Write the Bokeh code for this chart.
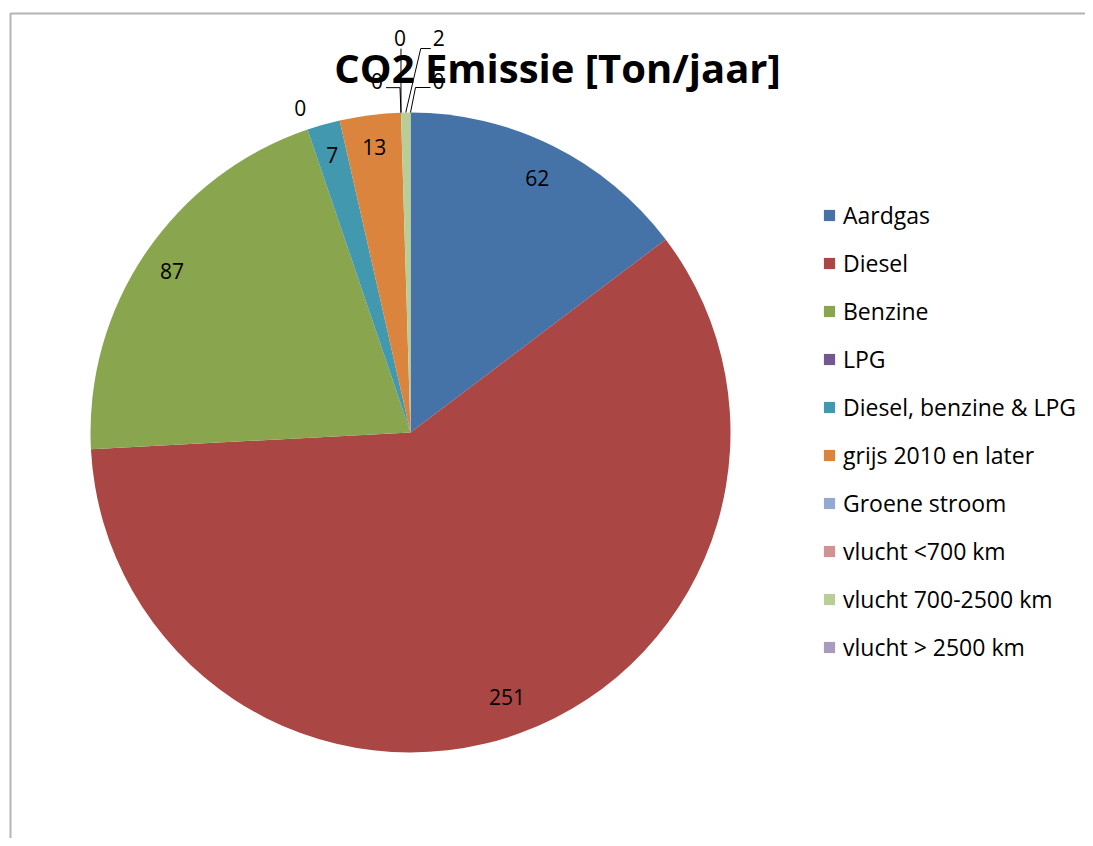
import math
from bokeh.plotting import figure
from bokeh.models import ColumnDataSource, Range1d, Legend, LegendItem, Label
from bokeh.embed import file_html
from bokeh.resources import INLINE
from bokeh.core.properties import value

# ---------------- data ----------------
categories = ["Aardgas", "Diesel", "Benzine", "LPG", "Diesel, benzine & LPG",
              "grijs 2010 en later", "Groene stroom", "vlucht <700 km",
              "vlucht 700-2500 km", "vlucht > 2500 km"]
emissions = [62, 251, 87, 0, 7, 13, 0, 0, 2, 0]
colors = ["#4572A7", "#AA4643", "#89A54E", "#71588F", "#4198AF",
          "#DB843D", "#93A9CF", "#D19392", "#B9CD96", "#A99BBD"]
title_text = "CO2 Emissie [Ton/jaar]"

# ---------------- layout / style ----------------
W, H = 1085, 838
CX, CY, R = 410, 406, 320
FONT = "Open Sans"
label_radius = [0.89, 0.88, 0.90, 1.07, 0.90, 0.90, None, None, None, None]
# labels with leader lines: label offset from slice edge point (px)
leader_label_off = {6: (-24, 32), 7: (-1, 75), 8: (33, 75), 9: (28, 32)}
leader_start_off = {6: (9, -7), 7: (1, -11), 8: (-8, -11), 9: (-8, -7)}
leader_elbow_dx = {6: 14, 7: 0, 8: -10, 9: -15}

total = float(sum(emissions))
starts, ends, mids, radii = [], [], [], []
c = 0.0
for v in emissions:
    a0 = c / total * 2 * math.pi
    c += v
    a1 = c / total * 2 * math.pi
    starts.append(math.pi / 2 - a0)
    ends.append(math.pi / 2 - a1)
    mids.append((a0 + a1) / 2)
    radii.append(R if v > 0 else 0)

src = ColumnDataSource(dict(cat=categories, val=emissions, color=colors,
                            start=starts, end=ends, r=radii))

p = figure(width=W, height=H, output_backend="svg", toolbar_location=None,
           x_range=Range1d(0, W), y_range=Range1d(0, H), min_border=0,
           outline_line_color=None, tools="")
p.axis.visible = False
p.grid.visible = False
p.background_fill_color = "white"

# chart frame (Excel-like border, only top/left visible)
p.line([10, 10, W], [0, H - 13, H - 13], line_color="#b4b4b4", line_width=2)

wr = p.wedge(x=CX, y=CY, radius="r", start_angle="start", end_angle="end",
             direction="clock", fill_color="color", line_color=None, source=src)

# labels
lx, ly, lt = [], [], []
mxs, mys = [], []
for i, v in enumerate(emissions):
    a = mids[i]
    if label_radius[i] is not None:
        r = label_radius[i] * R
        lx.append(CX + r * math.sin(a))
        ly.append(CY + r * math.cos(a))
    else:
        ax = CX + R * math.sin(a)
        ay = CY + R * math.cos(a)
        ox, oy = leader_label_off[i]
        x0, y0 = ax + ox, ay + oy
        lx.append(x0)
        ly.append(y0)
        sx, sy = leader_start_off[i]
        s_x, s_y = x0 + sx, y0 + sy
        e_x = s_x + leader_elbow_dx[i]
        mxs.append([s_x, e_x, ax])
        mys.append([s_y, s_y, ay])
    lt.append(str(v))

p.multi_line(xs=mxs, ys=mys, line_color="black", line_width=1)

lsrc = ColumnDataSource(dict(x=lx, y=ly, t=lt))
p.text(x="x", y="y", text="t", source=lsrc, text_align="center",
       text_baseline="middle", text_font=value(FONT), text_font_size="21px",
       text_color="black")

p.add_layout(Label(x=557, y=H - 67, text=title_text, text_align="center",
                   text_baseline="middle", text_font=FONT,
                   text_font_style="bold", text_font_size="40px",
                   text_color="black"))

items = [LegendItem(label=cat, renderers=[wr], index=i)
         for i, cat in enumerate(categories)]
legend = Legend(items=items, location=(822, 175), orientation="vertical",
                glyph_width=14, glyph_height=14, label_height=32,
                label_standoff=7, spacing=16, padding=0, margin=0,
                border_line_color=None, background_fill_alpha=0,
                label_text_font=FONT, label_text_font_size="23px",
                label_text_color="black")
p.add_layout(legend)

open("out.html", "w").write(file_html(p, INLINE))
